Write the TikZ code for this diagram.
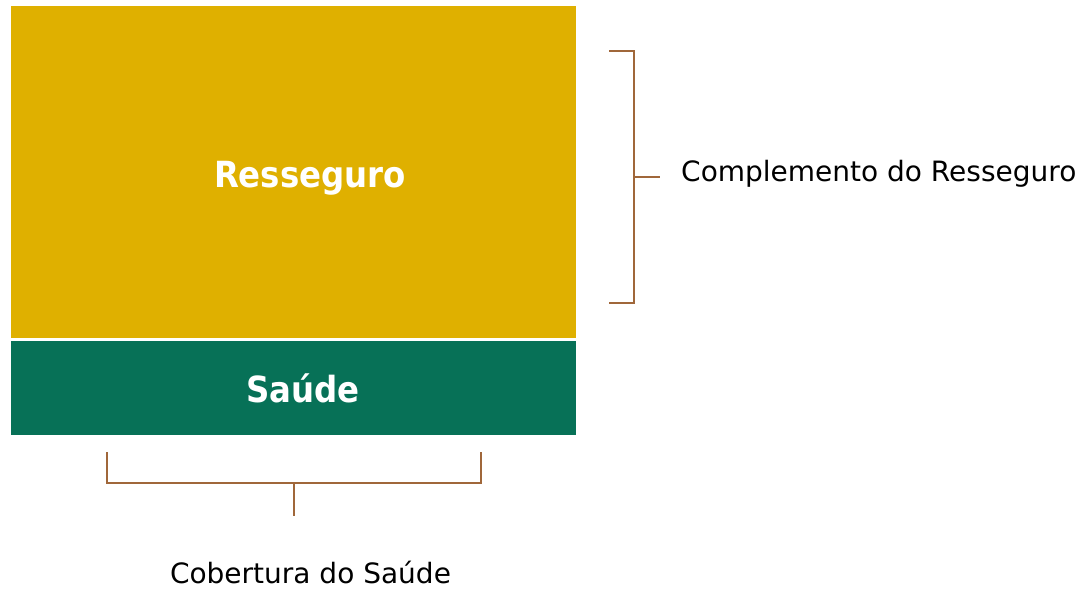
\documentclass[tikz,border=0pt]{standalone}
\usepackage{fontspec}
\setmainfont{DejaVu Sans}
\newfontfamily\condfont{DejaVu Sans Condensed}
\definecolor{gold}{HTML}{DFB000}
\definecolor{teal}{HTML}{077157}
\definecolor{brk}{HTML}{A0673A}
\begin{document}
\begin{tikzpicture}[x=1pt,y=-1pt,
  bracket/.style={draw=brk,line width=2.8pt},
  lbl/.style={font=\fontsize{28}{32}\selectfont,text=black,inner sep=0pt},
  boxlbl/.style={font=\condfont\bfseries\fontsize{36}{40}\selectfont,text=white,inner sep=0pt}]
\useasboundingbox (0,0) rectangle (1084,591);
\fill[gold] (11,6) rectangle (576,337.5);
\fill[teal] (11,341) rectangle (576,435);
\node[boxlbl,anchor=base] (res) at (310,187) {Resseguro};
\node[boxlbl,anchor=base] (sau) at (303,402) {Saúde};
% right bracket
\coordinate (rt) at (609,51);
\coordinate (rb) at (609,303);
\coordinate (rm) at (660,177);
\draw[bracket] (rt) -- (634,51) -- (634,303) -- (rb);
\draw[bracket] (634,177) -- (rm);
\node[lbl,anchor=base west] (comp) at (681,181) {Complemento do Resseguro};
% bottom bracket
\coordinate (bl) at (107,452);
\coordinate (br) at (481,452);
\coordinate (bm) at (294,516);
\draw[bracket] (bl) -- (107,483) -- (481,483) -- (br);
\draw[bracket] (294,483) -- (bm);
\node[lbl,anchor=base] (cob) at (310.5,583) {Cobertura do Saúde};
\end{tikzpicture}
\end{document}
